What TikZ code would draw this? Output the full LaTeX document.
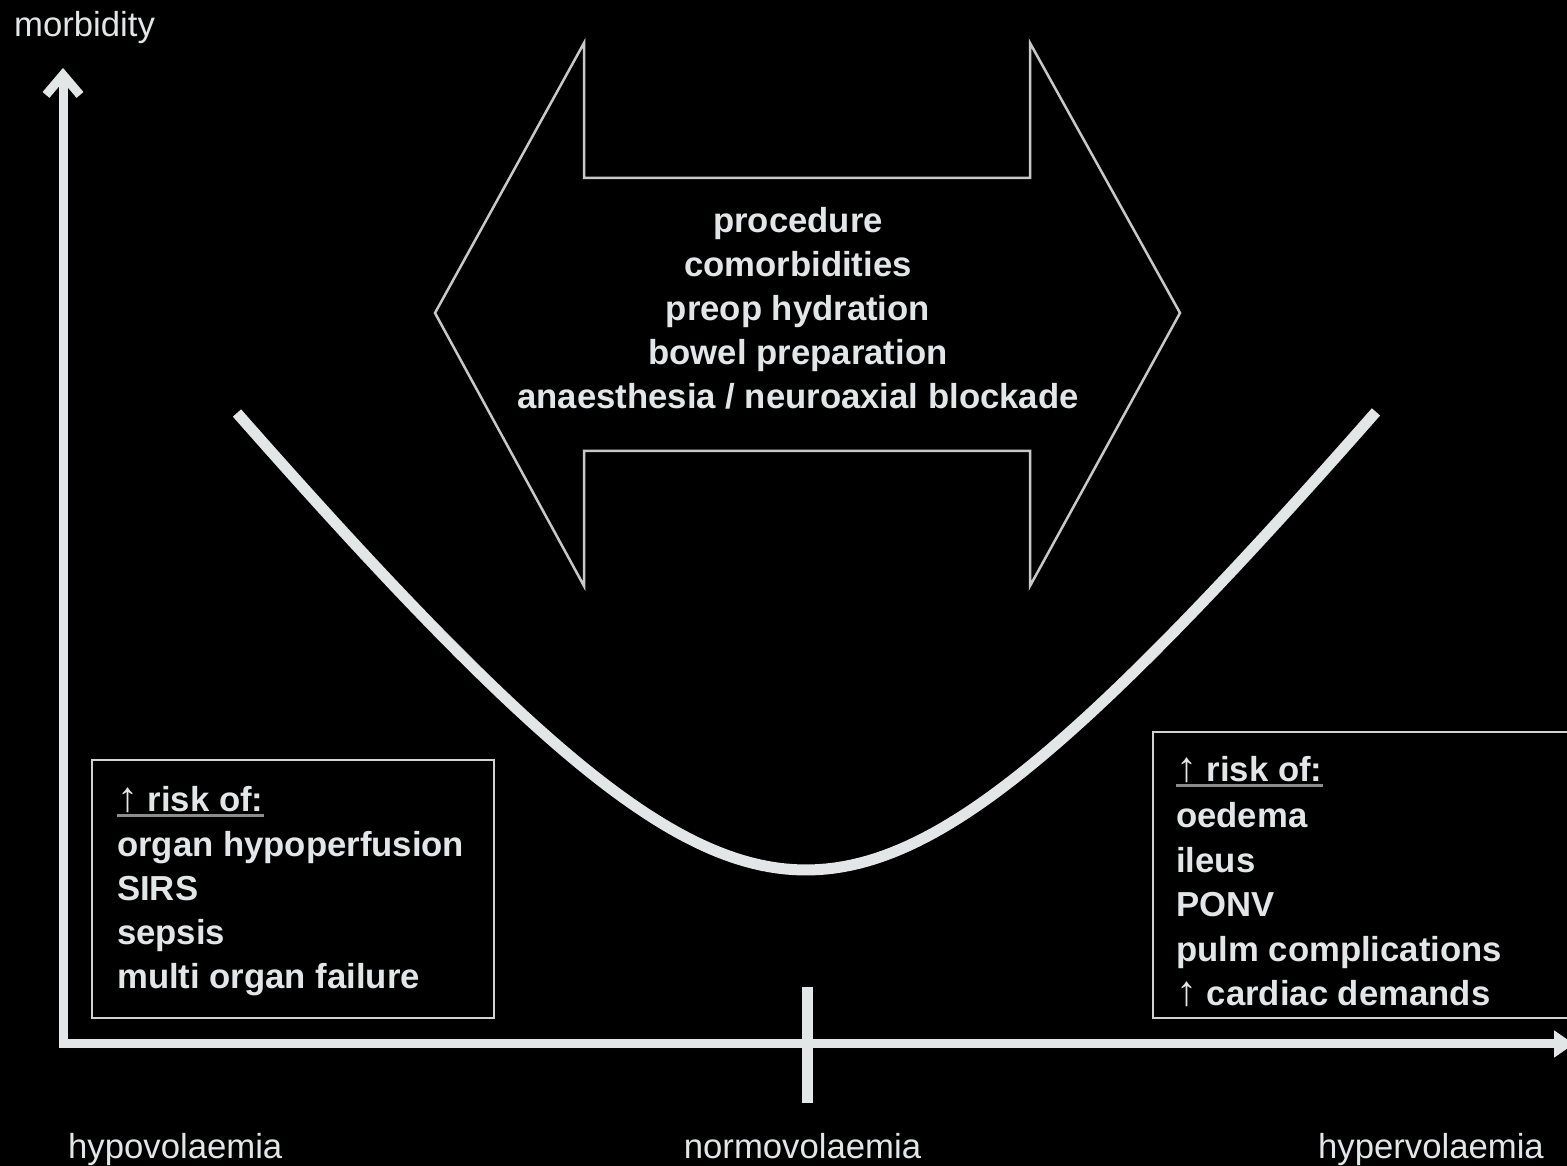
\documentclass[tikz,border=0pt]{standalone}
\usepackage{fontspec}
\setmainfont{Liberation Sans}
\newfontfamily\arrowfont{Liberation Sans}
\usetikzlibrary{arrows.meta}
\definecolor{fg}{RGB}{226,230,230}
\definecolor{shapeline}{RGB}{200,200,200}
\definecolor{boxline}{RGB}{210,210,210}
\definecolor{ulgray}{RGB}{140,140,140}
\newcommand\myuparr{{\arrowfont\mdseries\fontsize{42}{44}\selectfont ↑}}
\begin{document}
\begin{tikzpicture}[x=1pt,y=1pt,
  txt/.style={text=fg, inner sep=0pt, font=\fontsize{34.7}{44}\selectfont},
  btxt/.style={text=fg, inner sep=0pt, font=\fontsize{34.7}{44}\selectfont\bfseries},
  btxtr/.style={text=fg, inner sep=0pt, font=\fontsize{34.7}{44.6}\selectfont\bfseries},
  axisline/.style={draw=fg, line width=9pt, line join=miter},
  curveline/.style={draw=fg, line width=11pt, line cap=butt},
  ticklike/.style={draw=fg, line width=11pt},
  shapeline/.style={draw=shapeline, line width=2.5pt, line join=miter},
  riskbox/.style={draw=boxline, line width=2pt, inner sep=0pt},
  ul/.style={draw=ulgray, line width=3pt}]
\fill[black] (0,0) rectangle (1567,1166);
\useasboundingbox (0,0) rectangle (1567,1166);
\clip (0,0) rectangle (1567,1166);

% axes
\coordinate (O) at (63,122);
\coordinate (ytip) at (63,1098);
\coordinate (xtip) at (1574,122);
\draw[axisline, {Straight Barb[length=20pt,width=34pt]}-{Triangle[length=20pt,width=26pt]}] (ytip) -- (O) -- (xtip);

% normovolaemia tick
\coordinate (tickt) at (807.5,179);
\coordinate (tickb) at (807.5,63);
\draw[ticklike] (tickt) -- (tickb);

% U-shaped morbidity curve
\draw[curveline] plot[domain=-5.69:5.70, samples=140] ({806+100*\x},{296+125*(sqrt(6.76+\x*\x)-2.6)});

% double-headed block arrow
\draw[shapeline] (435,853) -- (584,1123) -- (584,988) -- (1030,988) -- (1030,1123)
  -- (1180,853) -- (1030,580) -- (1030,715) -- (584,715) -- (584,580) -- cycle;

\node[btxt, align=center, anchor=base] (factors) at (798,757)
  {procedure\\comorbidities\\preop hydration\\bowel preparation\\anaesthesia / neuroaxial blockade};

% left box
\node[riskbox, anchor=north west, minimum width=402, minimum height=258] (lbox) at (91,407) {};
\node[btxt, anchor=base west] (lhead) at (117,354) {\myuparr{} risk of:};
\draw[ul] ([yshift=-3.5pt]lhead.base west) -- ([yshift=-3.5pt]lhead.base east);
\node[btxt, anchor=base west, align=left] (llist) at (117,177)
  {organ hypoperfusion\\SIRS\\sepsis\\multi organ failure};

% right box
\node[riskbox, anchor=north west, minimum width=440, minimum height=286] (rbox) at (1152,435) {};
\node[btxt, anchor=base west] (rhead) at (1176,384) {\myuparr{} risk of:};
\draw[ul] ([yshift=-3.5pt]rhead.base west) -- ([yshift=-3.5pt]rhead.base east);
\node[btxtr, anchor=base west, align=left] (rlist) at (1176,160)
  {oedema\\ileus\\PONV\\pulm complications\\\myuparr{} cardiac demands};

% axis labels
\node[txt, anchor=base west] (ylab) at (14,1129) {morbidity};
\node[txt, anchor=base west] (hypo) at (68,7) {hypovolaemia};
\node[txt, anchor=base] (normo) at (802.5,7) {normovolaemia};
\node[txt, anchor=base east] (hyper) at (1544,7) {hypervolaemia};
\end{tikzpicture}
\end{document}
